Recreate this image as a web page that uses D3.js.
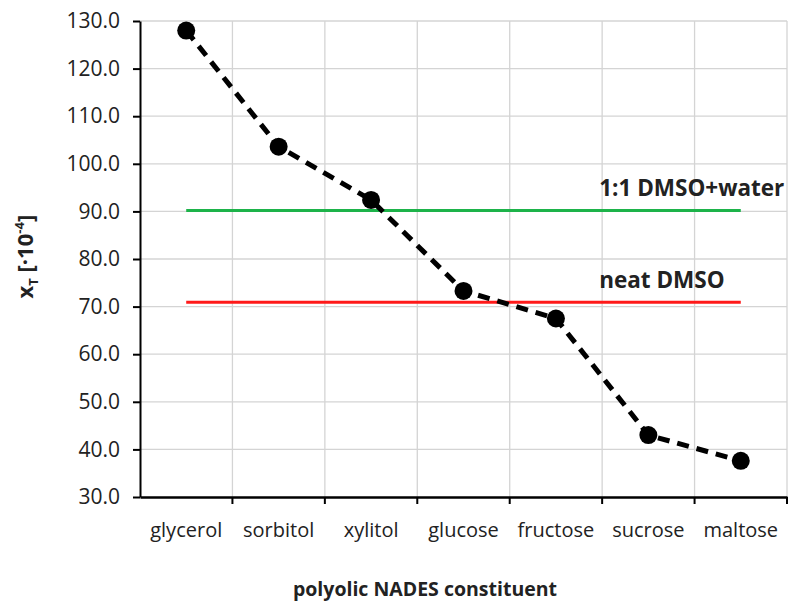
<!DOCTYPE html>
<html>
<head>
<meta charset="utf-8">
<script src="https://cdn.jsdelivr.net/npm/d3@7"></script>
<style>
  body { margin: 0; background: #fff; }
  text { font-family: "Open Sans", "Liberation Sans", sans-serif; fill: #222; }
</style>
</head>
<body>
<div id="chart"></div>
<script>
// données
const constituents = ["glycerol", "sorbitol", "xylitol", "glucose", "fructose", "sucrose", "maltose"];
const xtValues = [128.0, 103.6, 92.4, 73.3, 67.5, 43.0, 37.6];
const refLevels = [90.2, 70.9];
const refLabels = ["1:1 DMSO+water", "neat DMSO"];
const refColors = ["#1db34a", "#ff1a1a"];
const yTicks = [30, 40, 50, 60, 70, 80, 90, 100, 110, 120, 130];

const W = 789, H = 603;
const margin = { top: 21, right: 2, bottom: 106, left: 140 };
const width = W - margin.left - margin.right,
      height = H - margin.top - margin.bottom;

const svg = d3.select("#chart").append("svg")
    .attr("width", W)
    .attr("height", H)
    .append("g")
    .attr("transform", "translate(" + margin.left + "," + margin.top + ")");

const x = d3.scaleBand().domain(constituents).range([0, width]);
const y = d3.scaleLinear().domain([30, 130]).range([height, 0]);

// grille
svg.append("g")
    .selectAll("line")
    .data(yTicks.slice(1))
    .join("line")
    .attr("x1", 0).attr("x2", width)
    .attr("y1", d => y(d)).attr("y2", d => y(d))
    .attr("stroke", "#d4d4d4").attr("stroke-width", 1.3);

svg.append("g")
    .selectAll("line")
    .data(constituents)
    .join("line")
    .attr("x1", d => x(d) + x.bandwidth()).attr("x2", d => x(d) + x.bandwidth())
    .attr("y1", 0).attr("y2", height)
    .attr("stroke", "#d4d4d4").attr("stroke-width", 1.3);

// axe y
const yAxis = svg.append("g")
    .call(d3.axisLeft(y).tickValues(yTicks).tickFormat(d3.format(".1f")).tickSize(7).tickSizeOuter(0));
yAxis.select(".domain").attr("stroke", "#000").attr("stroke-width", 2);
yAxis.selectAll(".tick line").attr("stroke", "#000").attr("stroke-width", 2);
yAxis.selectAll(".tick text")
    .attr("x", -20)
    .style("font-size", "21px")
    .style("font-family", "'Open Sans', sans-serif")
    .attr("fill", "#333");

// axe x
const xAxis = svg.append("g")
    .attr("transform", "translate(0," + height + ")")
    .call(d3.axisBottom(x).tickSize(0).tickSizeOuter(0));
xAxis.select(".domain").attr("stroke", "#000").attr("stroke-width", 2.5);
xAxis.selectAll(".tick text")
    .attr("dy", 0)
    .attr("y", 40)
    .style("font-size", "20px")
    .style("font-family", "'Open Sans', sans-serif")
    .attr("fill", "#333");

svg.append("g")
    .selectAll("line")
    .data(constituents)
    .join("line")
    .attr("x1", d => x(d) + x.bandwidth()).attr("x2", d => x(d) + x.bandwidth())
    .attr("y1", height).attr("y2", height + 7)
    .attr("stroke", "#000").attr("stroke-width", 2);

// lignes de référence
const x0 = x(constituents[0]) + x.bandwidth() / 2,
      x1 = x(constituents[constituents.length - 1]) + x.bandwidth() / 2;

refLevels.forEach((v, i) => {
    svg.append("line")
        .attr("x1", x0).attr("x2", x1)
        .attr("y1", y(v)).attr("y2", y(v))
        .attr("stroke", refColors[i]).attr("stroke-width", 3);
    svg.append("text")
        .attr("x", x(constituents[5]) - 3)
        .attr("y", y(v) - 14)
        .style("font-size", "22.5px")
        .style("font-weight", "bold")
        .attr("fill", "#222")
        .text(refLabels[i]);
});

// série
const line = d3.line()
    .x((d, i) => x(constituents[i]) + x.bandwidth() / 2)
    .y(d => y(d));

svg.append("path")
    .datum(xtValues)
    .attr("d", line)
    .attr("fill", "none")
    .attr("stroke", "#000")
    .attr("stroke-width", 5)
    .attr("stroke-dasharray", "12,8");

svg.append("g")
    .selectAll("circle")
    .data(xtValues)
    .join("circle")
    .attr("cx", (d, i) => x(constituents[i]) + x.bandwidth() / 2)
    .attr("cy", d => y(d))
    .attr("r", 9)
    .attr("fill", "#000");

// titres des axes
svg.append("text")
    .attr("x", 285)
    .attr("y", height + 99)
    .attr("text-anchor", "middle")
    .style("font-size", "19.5px")
    .style("font-weight", "bold")
    .attr("fill", "#111")
    .text("polyolic NADES constituent");

const yl = svg.append("text")
    .attr("transform", "translate(" + (-107) + "," + (y(80.5)) + ") rotate(-90)")
    .attr("text-anchor", "middle")
    .style("font-size", "22px")
    .style("font-weight", "bold")
    .attr("fill", "#111");
yl.append("tspan").text("x");
yl.append("tspan").attr("dy", 5).style("font-size", "13px").text("T");
yl.append("tspan").attr("dy", -5).text(" [·10");
yl.append("tspan").attr("dy", -9).style("font-size", "13px").text("-4");
yl.append("tspan").attr("dy", 9).text("]");
</script>
</body>
</html>
